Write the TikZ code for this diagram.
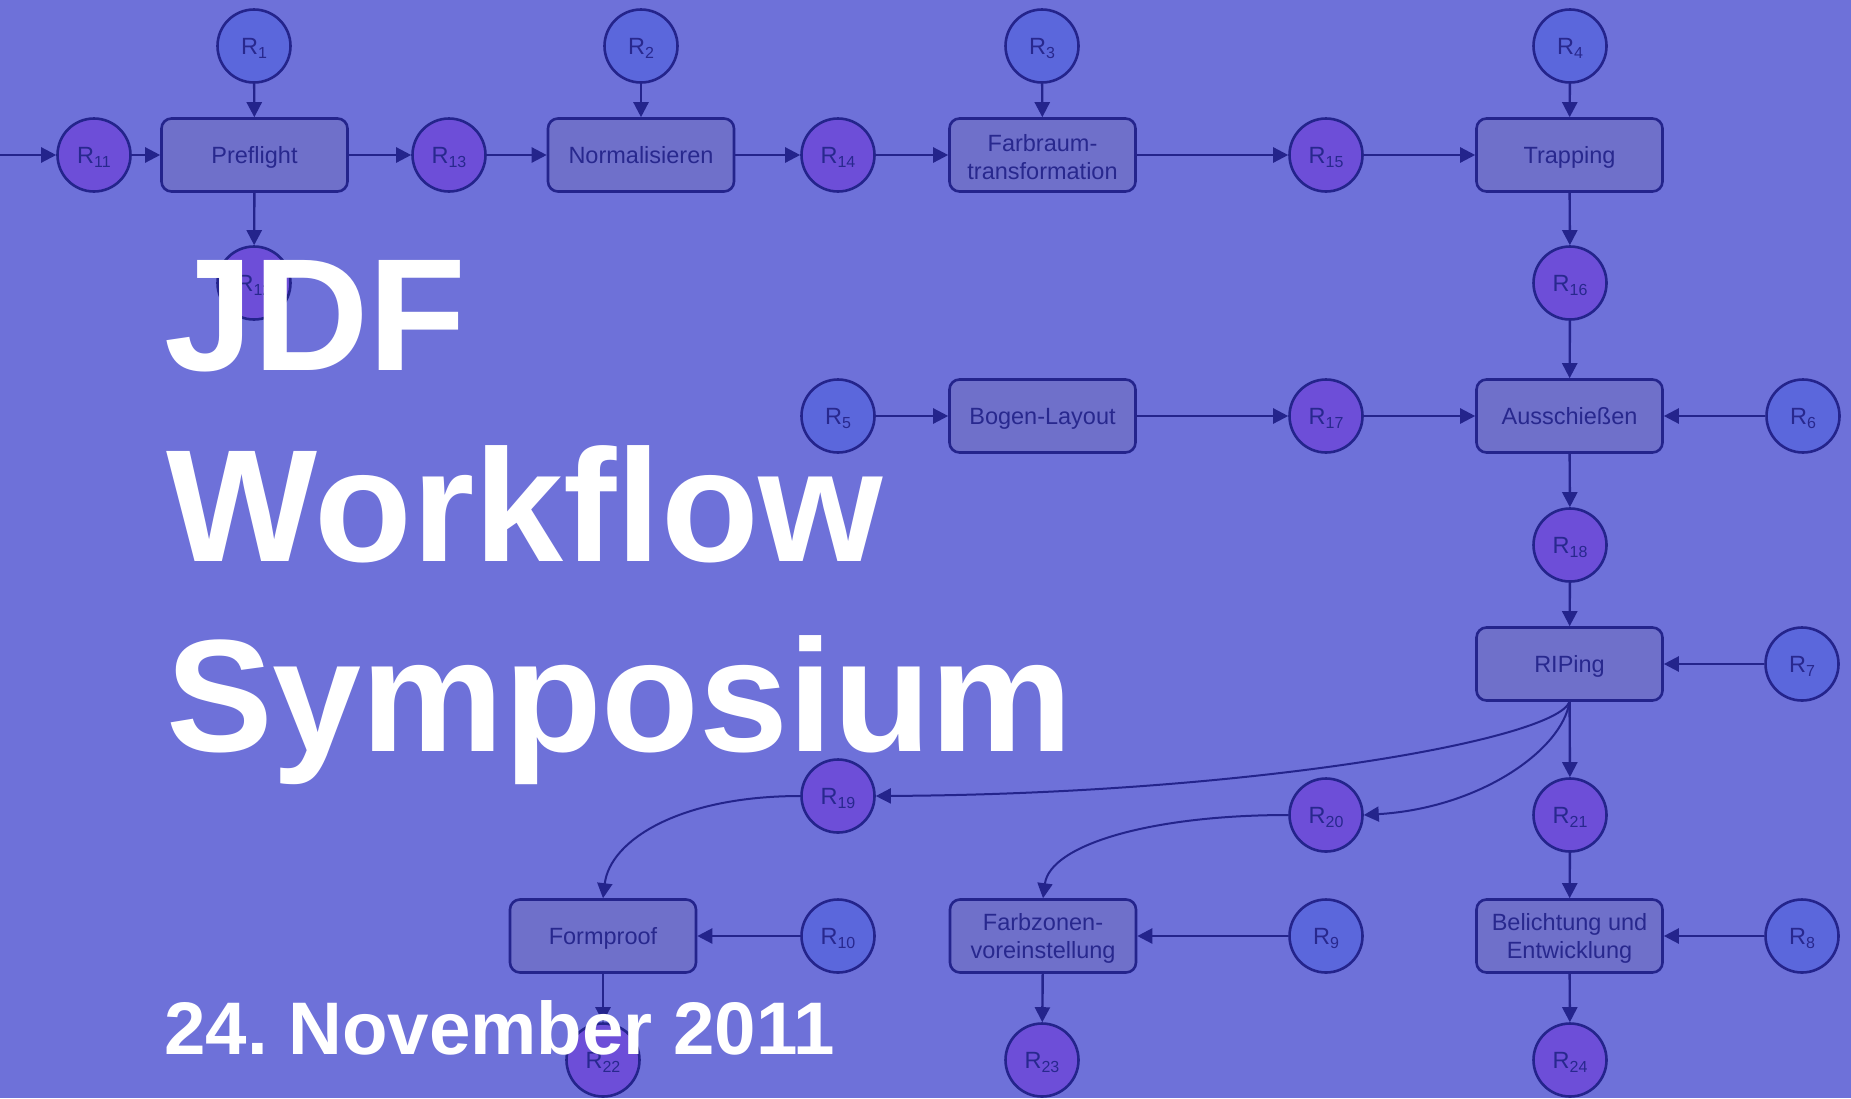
\documentclass[tikz,border=0pt]{standalone}
\usepackage{fontspec}
\setmainfont{Liberation Sans}
\usetikzlibrary{arrows.meta}
\definecolor{bg}{HTML}{6E71D9}
\definecolor{boxfill}{HTML}{6F70CA}
\definecolor{resin}{HTML}{5B67DC}
\definecolor{resmid}{HTML}{6D4ED8}
\definecolor{edge}{HTML}{24248C}
\definecolor{txt}{HTML}{28288E}
\newcommand\Rsub[1]{R\raisebox{-0.35ex}{\fontsize{16}{16}\selectfont #1}}
\newcommand\topstrut{\rule{0pt}{21.5pt}}
\frenchspacing
\begin{document}
\begin{tikzpicture}[x=1pt,y=-1pt,
  proc/.style={draw=edge, fill=boxfill, line width=2.6pt, rounded corners=10pt,
    minimum width=186pt, minimum height=73pt, inner sep=2pt, text=txt,
    align=center, text height=17pt, text depth=0pt,
    font=\fontsize{23.5}{28}\selectfont},
  proctwo/.style={proc, text height=, text depth=},
  rin/.style={circle, draw=edge, fill=resin, line width=2.6pt, minimum size=73pt,
    inner sep=0pt, text=txt, text height=17pt, text depth=0pt,
    font=\fontsize{23.5}{28}\selectfont},
  rmid/.style={rin, fill=resmid},
  flow/.style={draw=edge, line width=2.4pt, -{Triangle[length=15pt,width=15pt]}},
  cflow/.style={draw=edge, line width=2pt, -{Triangle[length=15pt,width=15pt]}},
  title/.style={anchor=base west, text=white, inner sep=0pt,
    font=\bfseries\fontsize{160}{190}\selectfont}]
\fill[bg] (0,0) rectangle (1851,1098);
\useasboundingbox (0,0) rectangle (1851,1098);

% row 1
\node[rin] (R1) at (254,46) {\Rsub{1}};
\node[rin] (R2) at (641,46) {\Rsub{2}};
\node[rin] (R3) at (1042,46) {\Rsub{3}};
\node[rin] (R4) at (1570,46) {\Rsub{4}};
\node[rmid] (R11) at (94,155) {\Rsub{11}};
\node[proc] (pre) at (254.5,155) {Preflight};
\node[rmid] (R13) at (449,155) {\Rsub{13}};
\node[proc] (norm) at (641,155) {Normalisieren};
\node[rmid] (R14) at (838,155) {\Rsub{14}};
\node[proctwo] (farb) at (1042.5,155) {\topstrut Farbraum-\\transformation};
\node[rmid] (R15) at (1326,155) {\Rsub{15}};
\node[proc] (trap) at (1569.5,155) {Trapping};
\node[rmid] (R12) at (254,283) {\Rsub{12}};
\node[rmid] (R16) at (1570,283) {\Rsub{16}};
% row 2
\node[rin] (R5) at (838,416) {\Rsub{5}};
\node[proc] (bogen) at (1042.5,416) {Bogen-Layout};
\node[rmid] (R17) at (1326,416) {\Rsub{17}};
\node[proc] (aus) at (1569.5,416) {Ausschießen};
\node[rin] (R6) at (1803,416) {\Rsub{6}};
\node[rmid] (R18) at (1570,545) {\Rsub{18}};
% row 3
\node[proc] (rip) at (1569.5,664) {RIPing};
\node[rin] (R7) at (1802,664) {\Rsub{7}};
\node[rmid] (R19) at (838,796) {\Rsub{19}};
\node[rmid] (R20) at (1326,815) {\Rsub{20}};
\node[rmid] (R21) at (1570,815) {\Rsub{21}};
% row 4
\node[proc] (form) at (603,936) {Formproof};
\node[rin] (R10) at (838,936) {\Rsub{10}};
\node[proctwo] (fz) at (1043,936) {\topstrut Farbzonen-\\voreinstellung};
\node[rin] (R9) at (1326,936) {\Rsub{9}};
\node[proctwo] (bel) at (1569.5,936) {\topstrut Belichtung und\\Entwicklung};
\node[rin] (R8) at (1802,936) {\Rsub{8}};
\node[rmid] (R22) at (603,1060) {\Rsub{22}};
\node[rmid] (R23) at (1042,1060) {\Rsub{23}};
\node[rmid] (R24) at (1570,1060) {\Rsub{24}};

\coordinate (in0) at (0,155);

% connectors
\draw[flow] (in0) -- (R11);
\draw[flow] (R11) -- (pre);
\draw[flow] (pre) -- (R13);
\draw[flow] (R13) -- (norm);
\draw[flow] (norm) -- (R14);
\draw[flow] (R14) -- (farb);
\draw[flow] (farb) -- (R15);
\draw[flow] (R15) -- (trap);
\draw[flow] (R1) -- (pre);
\draw[flow] (R2) -- (norm);
\draw[flow] (R3) -- (farb);
\draw[flow] (R4) -- (trap);
\draw[flow] (pre) -- (R12);
\draw[flow] (trap) -- (R16);
\draw[flow] (R16) -- (aus);
\draw[flow] (R5) -- (bogen);
\draw[flow] (bogen) -- (R17);
\draw[flow] (R17) -- (aus);
\draw[flow] (R6) -- (aus);
\draw[flow] (aus) -- (R18);
\draw[flow] (R18) -- (rip);
\draw[flow] (R7) -- (rip);
\draw[cflow] (rip.south) .. controls (1555,740) and (1250,794) .. (R19.east);
\draw[cflow] (rip.south) .. controls (1562,750) and (1480,808) .. (R20.east);
\draw[flow] (rip) -- (R21);
\draw[cflow] (R19.west) .. controls (680,796) and (610,840) .. (form.north);
\draw[cflow] (R20.west) .. controls (1150,815) and (1050,845) .. (fz.north);
\draw[flow] (R21) -- (bel);
\draw[flow] (R10) -- (form);
\draw[flow] (R9) -- (fz);
\draw[flow] (R8) -- (bel);
\draw[flow] (form) -- (R22);
\draw[flow] (fz) -- (R23);
\draw[flow] (bel) -- (R24);

% title
\node[title] (t1) at (164,370) {JDF};
\node[title] (t2) at (166,561) {Workflow};
\node[title] (t3) at (166,751) {Symposium};
\node[title, font=\bfseries\fontsize{74.5}{80}\selectfont] (date) at (164,1054) {24. November 2011};
\end{tikzpicture}
\end{document}
